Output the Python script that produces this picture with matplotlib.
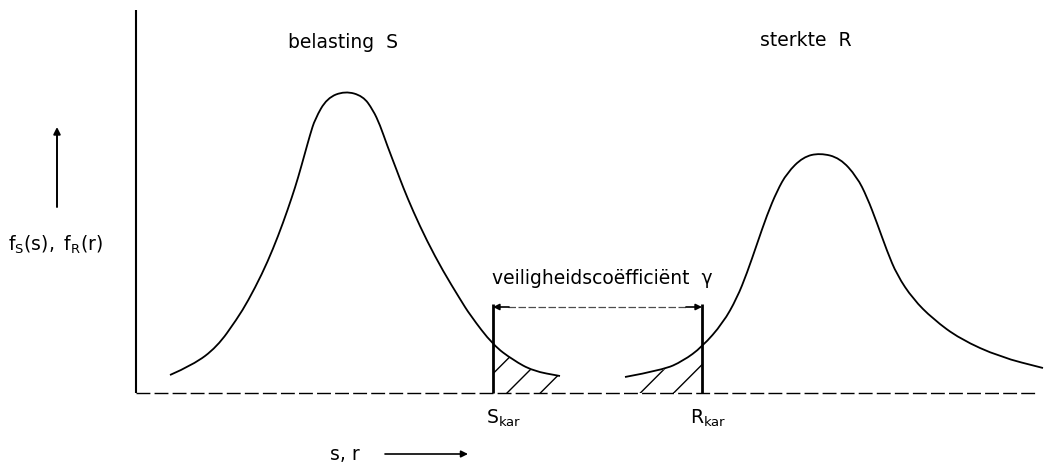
import matplotlib.pyplot as plt
from matplotlib.path import Path
from matplotlib.patches import PathPatch

# curves (x in pixels, height above the base line in pixels)
s_x = [170, 193, 217, 237, 248, 262, 273, 283, 292, 298, 305, 310, 315, 327, 345,
       363, 373, 380, 387, 397, 403, 413, 427, 443, 460, 470, 493, 513, 533, 560]
s_f = [18, 28, 46, 74, 92, 119, 144, 170, 196, 215, 240, 258, 274, 295, 302,
       297, 283, 268, 248, 222, 206, 182, 152, 122, 94, 78, 48, 33, 22, 17]

r_x = [625, 663, 683, 702, 723, 737, 747, 757, 767, 777, 787, 803, 820,
       840, 857, 867, 877, 887, 897, 913, 933, 960, 1000, 1043]
r_f = [16, 23, 32, 46, 70, 95, 120, 149, 178, 202, 220, 236, 240,
       235, 216, 196, 170, 142, 118, 94, 74, 54, 36, 25]

s_kar = 493
r_kar = 702
gamma_level = 86


def smooth_path(x, y):
    # quadratic bezier pieces through the midpoints, read points act as controls
    verts = [(x[0], y[0])]
    codes = [Path.MOVETO]
    for i in range(1, len(x) - 1):
        verts.append((x[i], y[i]))
        verts.append(((x[i] + x[i + 1]) / 2, (y[i] + y[i + 1]) / 2))
        codes += [Path.CURVE3, Path.CURVE3]
    verts.append((x[-1], y[-1]))
    codes.append(Path.LINETO)
    return Path(verts, codes)


fig = plt.figure(figsize=(10.47, 4.63), dpi=100)
ax = fig.add_axes([0, 0, 1, 1])
ax.set_xlim(0, 1047)
ax.set_ylim(-70, 393)
ax.axis('off')

# axes lines
ax.vlines(136, 0, 383, color='black', lw=1.5)
ax.hlines(0, 136, 1035, color='black', lw=1.0, linestyles=(0, (10, 3)))

# the two density curves
for xs, fs in [(s_x, s_f), (r_x, r_f)]:
    ax.add_patch(PathPatch(smooth_path(xs, fs), fill=False, ec='black', lw=1.3))

# hatched tails
hx = [x for x in s_x if x >= s_kar]
hf = [f for x, f in zip(s_x, s_f) if x >= s_kar]
ax.fill_between(hx, 0, hf, facecolor='none', edgecolor='black', hatch='/', lw=0)
hx = [x for x in r_x if x <= r_kar]
hf = [f for x, f in zip(r_x, r_f) if x <= r_kar]
ax.fill_between(hx, 0, hf, facecolor='none', edgecolor='black', hatch='/', lw=0)

# characteristic values and safety factor
ax.vlines([s_kar, r_kar], 0, 89, color='black', lw=2)
ax.hlines(gamma_level, s_kar + 15, r_kar - 15, color='0.3', lw=0.9, linestyles=(0, (6, 2)))
for x0, x1 in [(s_kar + 16, s_kar), (r_kar - 16, r_kar)]:
    ax.annotate('', xy=(x1, gamma_level), xytext=(x0, gamma_level),
                arrowprops=dict(arrowstyle='-|>', lw=1.2, color='black',
                                shrinkA=0, shrinkB=0, mutation_scale=9))

fs = 13.5
ax.text(343, 351, 'belasting  S', ha='center', va='center', fontsize=fs)
ax.text(806, 353, 'sterkte  R', ha='center', va='center', fontsize=fs)
ax.text(602, 115, 'veiligheidscoëfficiënt  γ', ha='center', va='center', fontsize=fs)
ax.text(486, -25, r'$\mathregular{S_{kar}}$', ha='left', va='center', fontsize=fs)
ax.text(690, -25, r'$\mathregular{R_{kar}}$', ha='left', va='center', fontsize=fs)
ax.text(8, 148, r'$\mathregular{f_S(s),\ f_R(r)}$', ha='left', va='center', fontsize=fs)
ax.text(330, -62, 's, r', ha='left', va='center', fontsize=fs)

# direction arrows
ax.annotate('', xy=(57, 266), xytext=(57, 186),
            arrowprops=dict(arrowstyle='-|>', lw=1.4, color='black', shrinkA=0, shrinkB=0))
ax.annotate('', xy=(468, -61), xytext=(385, -61),
            arrowprops=dict(arrowstyle='-|>', lw=1.2, color='black', shrinkA=0, shrinkB=0))

plt.savefig('out.png', dpi=100)
